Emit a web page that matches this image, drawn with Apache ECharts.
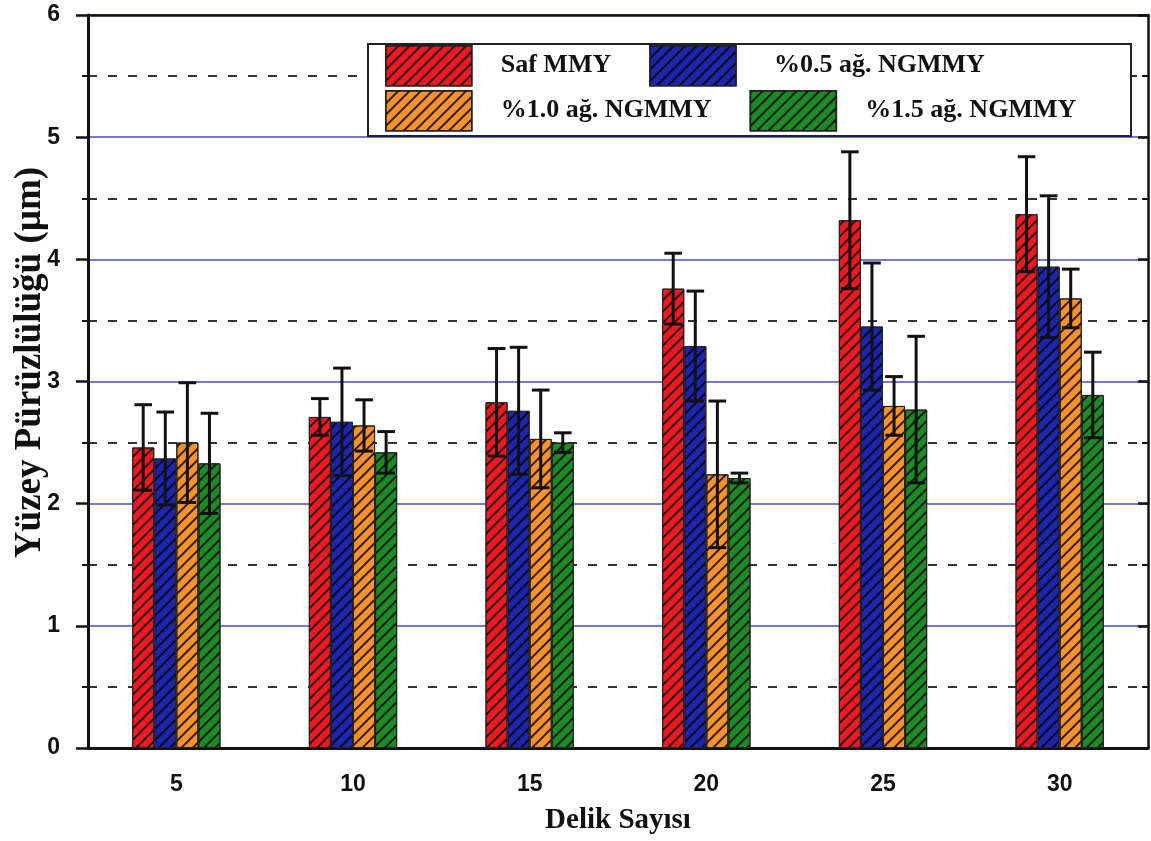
<!DOCTYPE html>
<html>
<head>
<meta charset="utf-8">
<title>Yüzey Pürüzlülüğü</title>
<script src="https://cdn.jsdelivr.net/npm/echarts@6/dist/echarts.min.js"></script>
<style>
  html, body { margin: 0; padding: 0; background: #fff; }
  #chart { width: 1151px; height: 841px; }
</style>
</head>
<body>
<div id="chart"></div>
<script>
// delik sayisi (x ekseni)
const categories = ['5', '10', '15', '20', '25', '30'];
const seriesNames = ['Saf MMY', '%0.5 ağ. NGMMY', '%1.0 ağ. NGMMY', '%1.5 ağ. NGMMY'];

// ortalama yüzey pürüzlülüğü (µm) ve hata (±)
const safMMY = [2.46, 2.71, 2.83, 3.76, 4.32, 4.37];
const safMMYErr = [0.35, 0.15, 0.44, 0.29, 0.56, 0.47];
const ng05 = [2.37, 2.67, 2.76, 3.29, 3.45, 3.94];
const ng05Err = [0.38, 0.44, 0.52, 0.45, 0.52, 0.58];
const ng10 = [2.50, 2.64, 2.53, 2.24, 2.80, 3.68];
const ng10Err = [0.49, 0.21, 0.40, 0.60, 0.24, 0.24];
const ng15 = [2.33, 2.42, 2.50, 2.21, 2.77, 2.89];
const ng15Err = [0.41, 0.17, 0.08, 0.04, 0.60, 0.35];

const yTicks = [0, 1, 2, 3, 4, 5, 6];

const values = [safMMY, ng05, ng10, ng15];
const errors = [safMMYErr, ng05Err, ng10Err, ng15Err];
const colors = ['#ee1a22', '#1d26aa', '#f7922e', '#1e8a26'];

const chart = echarts.init(document.getElementById('chart'));

// tarama deseni "/"
const hatch = {
  symbol: 'rect',
  symbolSize: 1,
  dashArrayX: [1, 0],
  dashArrayY: [1.5, 5.2],
  rotation: -Math.PI / 4,
  color: 'rgba(0,0,0,0.8)'
};

const barSeries = seriesNames.map(function (name, i) {
  return {
    name: name,
    type: 'bar',
    barGap: '0%',
    barCategoryGap: '50%',
    data: values[i],
    itemStyle: {
      color: colors[i],
      borderColor: '#222',
      borderWidth: 1,
      decal: hatch
    }
  };
});

// hata çubukları: [kategori, alt, üst, seri]
const errData = [];
values.forEach(function (arr, s) {
  arr.forEach(function (v, c) {
    errData.push([c, v - errors[s][c], v + errors[s][c], s]);
  });
});

const tickFont = { fontFamily: 'Liberation Sans', fontWeight: 'bold', fontSize: 23, color: '#111' };
const serifBold = { fontFamily: 'Liberation Serif', fontWeight: 'bold', color: '#111' };

const legendBase = {
  left: 385,
  icon: 'rect',
  itemWidth: 86,
  itemHeight: 40,
  itemGap: 38,
  padding: 0,
  itemStyle: { borderColor: '#222', borderWidth: 1.5 },
  textStyle: Object.assign({ fontSize: 26, padding: [0, 0, 0, 24] }, serifBold)
};

chart.setOption({
  backgroundColor: '#fff',
  animation: false,
  grid: { left: 88, right: 3, top: 15, bottom: 93, outerBoundsMode: 'none' },
  graphic: [{
    type: 'rect',
    left: 367,
    top: 43,
    z: 3,
    shape: { width: 763, height: 92 },
    style: { fill: '#fff', stroke: '#222', lineWidth: 2 }
  }],
  legend: [
    Object.assign({ top: 45, data: [
      seriesNames[0],
      { name: seriesNames[1], textStyle: { padding: [0, 0, 0, 33] } }
    ] }, legendBase),
    Object.assign({ top: 90, data: [seriesNames[2], seriesNames[3]] }, legendBase)
  ],
  xAxis: [
    {
      type: 'category',
      data: categories,
      name: 'Delik Sayısı',
      nameLocation: 'middle',
      nameGap: 58,
      nameMoveOverlap: false,
      nameTextStyle: Object.assign({ fontSize: 29 }, serifBold),
      axisLine: { lineStyle: { color: '#111', width: 3 } },
      axisTick: { alignWithLabel: true, length: 15, lineStyle: { width: 2.5, color: '#111' } },
      axisLabel: Object.assign({ margin: 25 }, tickFont)
    },
    {
      type: 'category',
      data: categories,
      position: 'bottom',
      axisLine: { show: false },
      axisTick: { length: 8, lineStyle: { width: 2.5, color: '#111' } },
      axisLabel: { show: false }
    },
    {
      type: 'category',
      data: categories,
      position: 'top',
      axisLine: { lineStyle: { color: '#111', width: 2.5 } },
      axisTick: { inside: true, alignWithLabel: true, length: 17, lineStyle: { width: 2.5, color: '#111' } },
      axisLabel: { show: false }
    },
    {
      type: 'category',
      data: categories,
      position: 'top',
      axisLine: { show: false },
      axisTick: { inside: true, length: 8, lineStyle: { width: 2.5, color: '#111' } },
      axisLabel: { show: false }
    }
  ],
  yAxis: [
    {
      type: 'value',
      min: yTicks[0],
      max: yTicks[yTicks.length - 1],
      interval: 1,
      name: 'Yüzey Pürüzlülüğü (µm)',
      nameLocation: 'middle',
      nameGap: 39,
      nameMoveOverlap: false,
      nameTextStyle: Object.assign({ fontSize: 37, padding: [0, 0, 0, 38] }, serifBold),
      axisLine: { show: true, lineStyle: { color: '#111', width: 3 } },
      axisTick: { show: true, length: 12, lineStyle: { width: 2.5, color: '#111' } },
      minorTick: { show: true, splitNumber: 2, length: 6, lineStyle: { width: 2, color: '#111' } },
      axisLabel: Object.assign({ margin: 28 }, tickFont),
      splitLine: { show: true, lineStyle: { color: '#4a4ac4', width: 1.5 } },
      minorSplitLine: { show: true, lineStyle: { color: '#333', width: 2, type: [9, 11] } }
    },
    {
      type: 'value',
      min: yTicks[0],
      max: yTicks[yTicks.length - 1],
      interval: 1,
      position: 'right',
      axisLine: { show: true, lineStyle: { color: '#111', width: 2.5 } },
      axisTick: { show: true, inside: true, length: 10, lineStyle: { width: 2.5, color: '#111' } },
      minorTick: { show: true, splitNumber: 2, length: 6, lineStyle: { width: 2, color: '#111' } },
      axisLabel: { show: false },
      splitLine: { show: false }
    }
  ],
  series: barSeries.concat([{
    name: 'hata',
    type: 'custom',
    z: 5,
    encode: { x: 0, y: [1, 2] },
    data: errData,
    renderItem: function (params, api) {
      const c = api.value(0);
      const s = api.value(3);
      const bw = api.size([1, 0])[0] * 0.125;
      const lo = api.coord([c, api.value(1)]);
      const hi = api.coord([c, api.value(2)]);
      const x = lo[0] + (s - 1.5) * bw;
      const cap = bw * 0.4;
      const st = { stroke: '#111', lineWidth: 3 };
      return {
        type: 'group',
        children: [
          { type: 'line', shape: { x1: x, y1: lo[1], x2: x, y2: hi[1] }, style: st },
          { type: 'line', shape: { x1: x - cap, y1: hi[1], x2: x + cap, y2: hi[1] }, style: st },
          { type: 'line', shape: { x1: x - cap, y1: lo[1], x2: x + cap, y2: lo[1] }, style: st }
        ]
      };
    }
  }])
});

window.onresize = function () {
  chart.resize();
};
</script>
</body>
</html>
